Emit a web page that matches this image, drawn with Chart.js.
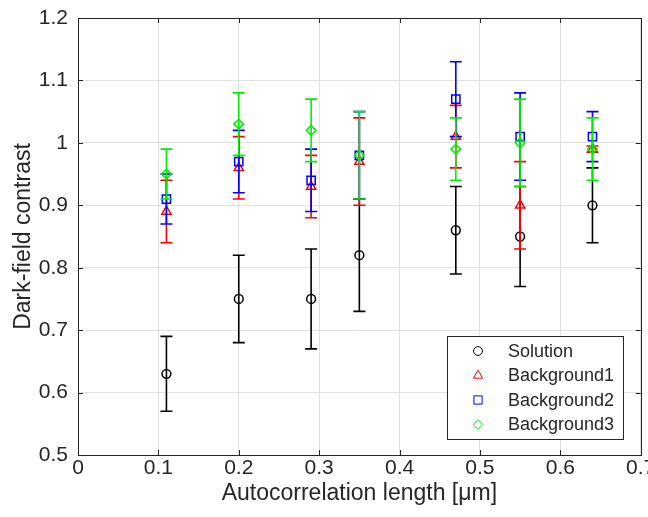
<!DOCTYPE html>
<html>
<head>
<meta charset="utf-8">
<script src="https://cdn.jsdelivr.net/npm/chart.js@4.4.0/dist/chart.umd.min.js"></script>
<style>
html,body{margin:0;padding:0;background:#fff;}
canvas{display:block;}
</style>
</head>
<body>
<canvas id="c" width="648" height="517"></canvas>
<script>
// ---- data ----
const xValues = [0.11, 0.2, 0.29, 0.35, 0.47, 0.55, 0.64];
const seriesNames = ['Solution', 'Background1', 'Background2', 'Background3'];
const solution      = [0.63, 0.75, 0.75, 0.82, 0.86, 0.85, 0.90];
const solutionErr   = [0.06, 0.07, 0.08, 0.09, 0.07, 0.08, 0.06];
const background1    = [0.89, 0.96, 0.93, 0.97, 1.01, 0.90, 0.99];
const background1Err = [0.05, 0.05, 0.05, 0.07, 0.05, 0.07, 0.005];
const background2    = [0.91, 0.97, 0.94, 0.98, 1.07, 1.01, 1.01];
const background2Err = [0.04, 0.05, 0.05, 0.07, 0.06, 0.07, 0.04];
const background3    = [0.95, 1.03, 1.02, 0.98, 0.99, 1.00, 0.99];
const background3Err = [0.04, 0.05, 0.05, 0.07, 0.05, 0.07, 0.05];
const xTicks = [0, 0.1, 0.2, 0.3, 0.4, 0.5, 0.6, 0.7];
const yTicks = [0.5, 0.6, 0.7, 0.8, 0.9, 1.0, 1.1, 1.2];
const xTitle = 'Autocorrelation length [\u03bcm]';
const yTitle = 'Dark-field contrast';

// ---- styling ----
const FONT = '"Liberation Sans", Arial, sans-serif';
const TXT = '#262626';
const TICK_SIZE = 21, TITLE_SIZE = 23, LEGEND_SIZE = 18;
const styles = [
  {color: '#000000', pointStyle: 'circle',   radius: 4.4},
  {color: '#ff0000', pointStyle: 'triangle', radius: 5.3},
  {color: '#0000ff', pointStyle: 'rect',     radius: 5.8},
  {color: '#00ee00', pointStyle: 'rectRot',  radius: 4.8}
];
const values = [solution, background1, background2, background3];
const errors = [solutionErr, background1Err, background2Err, background3Err];

const datasets = values.map((vals, i) => ({
  label: seriesNames[i],
  data: xValues.map((x, j) => ({x: x, y: vals[j]})),
  errors: errors[i],
  showLine: false,
  pointStyle: styles[i].pointStyle,
  pointRadius: styles[i].radius,
  pointBorderWidth: 1.5,
  pointBorderColor: styles[i].color,
  pointBackgroundColor: 'rgba(0,0,0,0)',
  borderColor: styles[i].color,
  order: 3 - i
}));

const errorBarPlugin = {
  id: 'errorBars',
  beforeDatasetDraw(chart, args) {
    const ds = chart.data.datasets[args.index];
    const xs = chart.scales.x, ys = chart.scales.y;
    const ctx = chart.ctx;
    ctx.save();
    ctx.strokeStyle = ds.borderColor;
    ctx.lineWidth = 1.6;
    const cap = 6;
    ds.data.forEach((p, j) => {
      const e = ds.errors[j];
      const px = xs.getPixelForValue(p.x);
      const top = ys.getPixelForValue(p.y + e);
      const bot = ys.getPixelForValue(p.y - e);
      ctx.beginPath();
      ctx.moveTo(px, top); ctx.lineTo(px, bot);
      ctx.moveTo(px - cap, top); ctx.lineTo(px + cap, top);
      ctx.moveTo(px - cap, bot); ctx.lineTo(px + cap, bot);
      ctx.stroke();
    });
    ctx.restore();
  }
};

const framePlugin = {
  id: 'frame',
  beforeDatasetsDraw(chart) {
    const {ctx, chartArea: a} = chart;
    const xs = chart.scales.x, ys = chart.scales.y;
    ctx.save();
    ctx.strokeStyle = TXT;
    ctx.lineWidth = 1;
    const tl = 5;
    ctx.beginPath();
    xTicks.forEach(v => {
      const px = Math.round(xs.getPixelForValue(v)) + 0.5;
      ctx.moveTo(px, a.bottom); ctx.lineTo(px, a.bottom - tl);
      ctx.moveTo(px, a.top); ctx.lineTo(px, a.top + tl);
    });
    yTicks.forEach(v => {
      const py = Math.round(ys.getPixelForValue(v)) + 0.5;
      ctx.moveTo(a.left, py); ctx.lineTo(a.left + tl, py);
      ctx.moveTo(a.right, py); ctx.lineTo(a.right - tl, py);
    });
    ctx.stroke();
    ctx.strokeRect(Math.round(a.left) + 0.5, Math.round(a.top) + 0.5,
                   Math.round(a.right - a.left), Math.round(a.bottom - a.top));
    ctx.restore();
  }
};

const legendPlugin = {
  id: 'matLegend',
  afterDraw(chart) {
    const ctx = chart.ctx;
    const box = {x: 447, y: 336, w: 176, h: 103};
    ctx.save();
    ctx.fillStyle = '#ffffff';
    ctx.fillRect(box.x, box.y, box.w, box.h);
    ctx.strokeStyle = TXT;
    ctx.lineWidth = 1;
    ctx.strokeRect(box.x + 0.5, box.y + 0.5, box.w, box.h);
    ctx.font = LEGEND_SIZE + 'px ' + FONT;
    ctx.textBaseline = 'middle';
    ctx.textAlign = 'left';
    const rows = [351, 375.5, 400, 424.5];
    chart.data.datasets.forEach((ds, i) => {
      ctx.strokeStyle = ds.pointBorderColor;
      ctx.fillStyle = 'rgba(0,0,0,0)';
      Chart.helpers.drawPoint(ctx, {pointStyle: ds.pointStyle, radius: ds.pointRadius, rotation: 0, borderWidth: 1.5}, 478, rows[i]);
      ctx.fillStyle = TXT;
      ctx.fillText(ds.label, 508, rows[i] + 1);
    });
    ctx.restore();
  }
};

const fmt = v => String(Number(Number(v).toFixed(2)));

new Chart(document.getElementById('c'), {
  type: 'scatter',
  data: {datasets: datasets},
  options: {
    responsive: false,
    animation: false,
    events: [],
    layout: {padding: {top: 18, right: 7, left: 0, bottom: 0}},
    plugins: {legend: {display: false}, tooltip: {enabled: false}},
    scales: {
      x: {
        type: 'linear', min: 0, max: 0.7,
        afterBuildTicks(s) { s.ticks = xTicks.map(v => ({value: v})); },
        afterFit(s) { s.height = 62; s.paddingLeft = 0; s.paddingRight = 0; },
        grid: {color: '#e2e2e2', lineWidth: 1, drawTicks: false},
        border: {display: false},
        ticks: {padding: 1, color: TXT, font: {family: FONT, size: TICK_SIZE}, callback: fmt, maxRotation: 0, autoSkip: false},
        title: {display: true, text: xTitle, color: TXT, font: {family: FONT, size: TITLE_SIZE}, padding: {top: 0, bottom: 10}}
      },
      y: {
        type: 'linear', min: 0.5, max: 1.2,
        afterBuildTicks(s) { s.ticks = yTicks.map(v => ({value: v})); },
        afterFit(s) { s.width = 78; s.paddingTop = 0; s.paddingBottom = 0; },
        grid: {color: '#e2e2e2', lineWidth: 1, drawTicks: false},
        border: {display: false},
        ticks: {padding: 10, color: TXT, font: {family: FONT, size: TICK_SIZE}, callback: fmt, autoSkip: false},
        title: {display: true, text: yTitle, color: TXT, font: {family: FONT, size: TITLE_SIZE}, padding: {top: 10, bottom: 0}}
      }
    }
  },
  plugins: [framePlugin, errorBarPlugin, legendPlugin]
});
</script>
</body>
</html>
